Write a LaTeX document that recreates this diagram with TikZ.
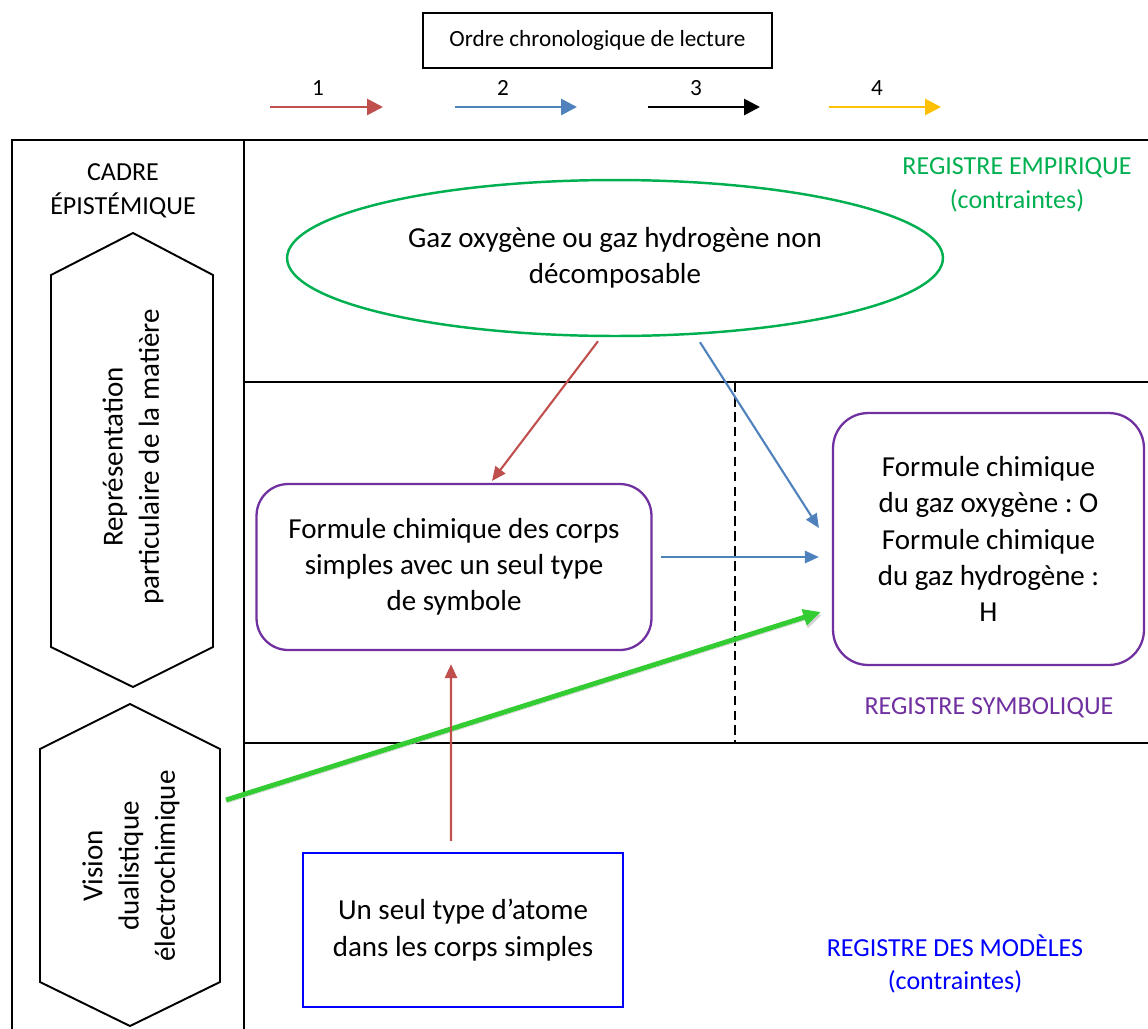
\documentclass[tikz,border=0pt]{standalone}
\usepackage{fontspec}
\setmainfont{Carlito}
\usetikzlibrary{arrows.meta,shapes.geometric}
\definecolor{rougeO}{HTML}{C0504D}
\definecolor{bleuO}{HTML}{4F81BD}
\definecolor{vertE}{HTML}{00B050}
\definecolor{vertF}{HTML}{33CC33}
\definecolor{violetS}{HTML}{7030A0}
\definecolor{bleuM}{HTML}{0000FF}
\definecolor{jauneO}{HTML}{FFC000}
\newcommand\txtgrand{\fontsize{16.5}{20.6}\selectfont}
\newcommand\txtmoyen{\fontsize{14.8}{19.2}\selectfont}
\newcommand\txtpetit{\fontsize{13.2}{15.5}\selectfont}
\frenchspacing
\begin{document}
\begin{tikzpicture}[x=0.02cm,y=-0.02cm,
	fleche/.style={line width=1.2pt,-{Triangle[length=8pt,width=7pt]}},
	legende/.style={line width=1.6pt,-{Triangle[length=9pt,width=9pt]}},
	cadre/.style={line width=1.4pt},
	boite/.style={draw=violetS,line width=1.3pt,rounded corners=18pt,align=center,font=\txtgrand,inner sep=0pt},
	registre/.style={font=\txtmoyen,align=center}]
	\useasboundingbox (0,0) rectangle (1148,1028);
	% Légende : ordre de lecture
	\node[draw,line width=1pt,minimum width=6.98cm,minimum height=1.1cm,font=\txtpetit] (ordre) at (597.5,40.5) {Ordre chronologique de lecture};
	\foreach \n/\x/\l/\c in {1/270/113/rougeO,2/455/122/bleuO,3/648/112/black,4/829/112/jauneO}{
		\node[font=\txtpetit] (num\n) at (\x+48,88) {\n};
		\coordinate (dl\n) at (\x,107);
		\coordinate (fl\n) at (\x+\l,107);
		\draw[legende,\c] (dl\n) -- (fl\n);
	}
	% Cadre et registres
	\draw[cadre] (12,140) rectangle (1160,1040);
	\draw[cadre] (244,140) -- (244,1040);
	\draw[cadre] (244,382) -- (1160,382);
	\draw[cadre] (244,743) -- (1160,743);
	\draw[line width=1.4pt,dash pattern=on 5.5pt off 3pt] (735,382) -- (735,743);
	\node[registre] (titrecadre) at (123,191) {CADRE\\ÉPISTÉMIQUE};
	\node[registre,vertE] (regemp) at (1017,185) {REGISTRE EMPIRIQUE\\(contraintes)};
	\node[registre,violetS] (regsym) at (989,708) {REGISTRE SYMBOLIQUE};
	\node[registre,bleuM] (regmod) at (955,964) {REGISTRE DES MODÈLES\\(contraintes)};
	% Hexagones
	\draw[line width=1.1pt] (133,233) -- (213,275) -- (213,647) -- (133,687) -- (51,647) -- (51,275) -- cycle;
	\node[rotate=90,align=center,font=\txtgrand] (repr) at (133,457) {Représentation\\particulaire de la matière};
	\draw[line width=1.1pt] (130,704) -- (220,749) -- (220,982) -- (130,1026) -- (40,982) -- (40,749) -- cycle;
	\node[rotate=90,align=center,font=\txtgrand] (vision) at (131,866) {Vision\\dualistique\\électrochimique};
	\coordinate (hexv) at (226,800);
	% Boîtes
	\node[draw=vertE,line width=1.4pt,ellipse,inner sep=0pt,minimum width=13.12cm,minimum height=3.12cm,align=center,font=\txtgrand] (gaz) at (615,258) {Gaz oxygène ou gaz hydrogène non\\décomposable};
	\node[boite,minimum width=7.9cm,minimum height=3.32cm] (fcorps) at (454,567) {Formule chimique des corps\\simples avec un seul type\\de symbole};
	\node[boite,rounded corners=20pt,minimum width=6.22cm,minimum height=5.04cm] (fsym) at (988.5,539) {Formule chimique\\du gaz oxygène : O\\Formule chimique\\du gaz hydrogène :\\H};
	\node[draw=bleuM,line width=1.3pt,minimum width=6.4cm,minimum height=3.08cm,align=center,font=\txtgrand] (atome) at (463,930) {Un seul type d’atome\\dans les corps simples};
	% Flèches
	\draw[fleche,rougeO] ([xshift=-0.34cm,yshift=-0.08cm]gaz.south) -- ([xshift=0.76cm,yshift=0.04cm]fcorps.north);
	\draw[fleche,bleuO] ([xshift=1.7cm,yshift=-0.1cm]gaz.south) -- ([xshift=-0.26cm,yshift=0.22cm]fsym.west);
	\draw[fleche,bleuO] ([xshift=0.16cm,yshift=0.2cm]fcorps.east) -- ([xshift=-0.26cm,yshift=0.2cm]fsym.west |- fcorps.east);
	\draw[line width=2.8pt,vertF,-{Triangle[length=10pt,width=9pt]},
		preaction={draw=black!18,transform canvas={shift={(0.6pt,-1.6pt)}}}]
		(hexv) -- ([xshift=-0.22cm,yshift=-1.46cm]fsym.west);
	\draw[fleche,rougeO] ([xshift=-0.24cm,yshift=0.22cm]atome.north) -- ([xshift=-0.06cm,yshift=-0.26cm]fcorps.south);
\end{tikzpicture}
\end{document}
